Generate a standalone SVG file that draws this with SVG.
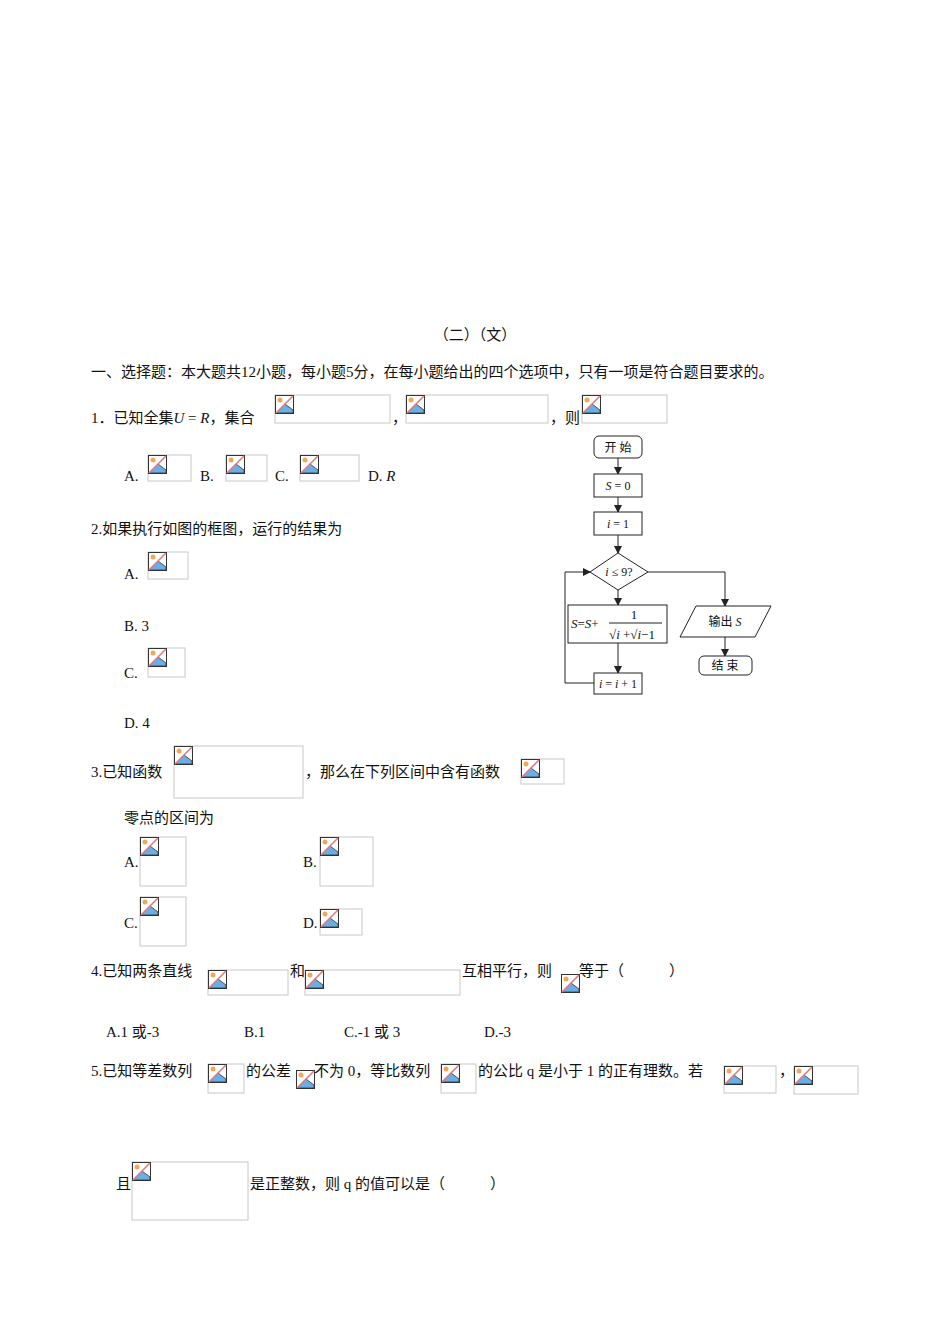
<svg xmlns="http://www.w3.org/2000/svg" xmlns:xlink="http://www.w3.org/1999/xlink" width="950" height="1344" viewBox="0 0 950 1344">
<style>
text{font-family:"Liberation Serif","Noto Sans CJK SC",serif;font-size:15px;fill:#111}
.b{fill:#fff;stroke:#c8c8c8;stroke-width:1}
.f{fill:#fff;stroke:#222;stroke-width:1}
.c{fill:none;stroke:#222;stroke-width:1}
.s{font-size:12px}
.i{font-style:italic}
</style>
<defs>
<marker id="a" markerWidth="8" markerHeight="8" refX="7" refY="4" orient="auto" markerUnits="userSpaceOnUse"><path d="M0,0L8,4L0,8z" fill="#222"/></marker>
<g id="ic"><rect x="0.5" y="0.5" width="18" height="18" fill="#fff" stroke="#333"/><circle cx="5" cy="5" r="2.5" fill="#f2a65a"/><path d="M1,18L10,9L18,15V18z" fill="#6aaee6" stroke="#333" stroke-width="0.8"/><path d="M1,18L18,1" stroke="#e07a7a" stroke-width="1.6"/></g>
</defs>
<rect width="950" height="1344" fill="#fff"/>
<g id="texts">
<text x="475" y="340" text-anchor="middle">（二）（文）</text>
<text x="91" y="377">一、选择题：本大题共12小题，每小题5分，在每小题给出的四个选项中，只有一项是符合题目要求的。</text>
<text x="91" y="423">1．已知全集<tspan class="i">U</tspan> = <tspan class="i">R</tspan>，集合</text>
<text x="392" y="423">，</text>
<text x="550" y="423">，则</text>
<text x="124" y="481">A.</text><text x="200" y="481">B.</text><text x="275" y="481">C.</text><text x="368" y="481">D. <tspan class="i">R</tspan></text>
<text x="91" y="534">2.如果执行如图的框图，运行的结果为</text>
<text x="124" y="579">A.</text>
<text x="124" y="631">B. 3</text>
<text x="124" y="678">C.</text>
<text x="124" y="728">D. 4</text>
<text x="91" y="777">3.已知函数</text>
<text x="305" y="777">，那么在下列区间中含有函数</text>
<text x="124" y="823">零点的区间为</text>
<text x="124" y="867">A.</text><text x="303" y="867">B.</text>
<text x="124" y="928">C.</text><text x="303" y="928">D.</text>
<text x="91" y="976">4.已知两条直线</text>
<text x="290" y="976">和</text>
<text x="462" y="976">互相平行，则</text>
<text x="579" y="976">等于（　　　）</text>
<text x="106" y="1037">A.1 或-3</text><text x="244" y="1037">B.1</text><text x="344" y="1037">C.-1 或 3</text><text x="484" y="1037">D.-3</text>
<text x="91" y="1076">5.已知等差数列</text>
<text x="246" y="1076">的公差</text>
<text x="314" y="1076">不为 0，等比数列</text>
<text x="478" y="1076">的公比 q 是小于 1 的正有理数。若</text>
<text x="779" y="1076">，</text>
<text x="116" y="1189">且</text>
<text x="250" y="1189">是正整数，则 q 的值可以是（　　　）</text>
</g>
<g id="images">
<rect class="b" x="275" y="395" width="115" height="28"/><use href="#ic" x="275" y="395"/>
<rect class="b" x="406" y="395" width="142" height="28"/><use href="#ic" x="406" y="395"/>
<rect class="b" x="582" y="395" width="85" height="28"/><use href="#ic" x="582" y="395"/>
<rect class="b" x="148" y="455" width="43" height="26"/><use href="#ic" x="148" y="455"/>
<rect class="b" x="226" y="455" width="41" height="26"/><use href="#ic" x="226" y="455"/>
<rect class="b" x="300" y="455" width="59" height="26"/><use href="#ic" x="300" y="455"/>
<rect class="b" x="148" y="552" width="40" height="27"/><use href="#ic" x="148" y="552"/>
<rect class="b" x="148" y="648" width="37" height="29"/><use href="#ic" x="148" y="648"/>
<rect class="b" x="174" y="746" width="129" height="52"/><use href="#ic" x="174" y="746"/>
<rect class="b" x="521" y="759" width="43" height="25"/><use href="#ic" x="521" y="759"/>
<rect class="b" x="140" y="837" width="46" height="49"/><use href="#ic" x="140" y="837"/>
<rect class="b" x="320" y="837" width="53" height="49"/><use href="#ic" x="320" y="837"/>
<rect class="b" x="140" y="897" width="46" height="49"/><use href="#ic" x="140" y="897"/>
<rect class="b" x="320" y="909" width="42" height="26"/><use href="#ic" x="320" y="909"/>
<rect class="b" x="208" y="970" width="80" height="25"/><use href="#ic" x="208" y="970"/>
<rect class="b" x="305" y="970" width="155" height="25"/><use href="#ic" x="305" y="970"/>
<use href="#ic" x="561" y="974"/>
<rect class="b" x="208" y="1064" width="36" height="29"/><use href="#ic" x="208" y="1064"/>
<use href="#ic" x="296" y="1070"/>
<rect class="b" x="441" y="1064" width="35" height="29"/><use href="#ic" x="441" y="1064"/>
<rect class="b" x="724" y="1066" width="52" height="27"/><use href="#ic" x="724" y="1066"/>
<rect class="b" x="794" y="1066" width="64" height="28"/><use href="#ic" x="794" y="1066"/>
<rect class="b" x="132" y="1162" width="116" height="58"/><use href="#ic" x="132" y="1162"/>
</g>
<g id="connectors">
<path class="c" d="M618,458V474" marker-end="url(#a)"/>
<path class="c" d="M618,497V512" marker-end="url(#a)"/>
<path class="c" d="M618,535V553" marker-end="url(#a)"/>
<path class="c" d="M618,590V605" marker-end="url(#a)"/>
<path class="c" d="M618,643V673" marker-end="url(#a)"/>
<path class="c" d="M594,683H565V572H590" marker-end="url(#a)"/>
<path class="c" d="M648,572H725V606" marker-end="url(#a)"/>
<path class="c" d="M725,637V656" marker-end="url(#a)"/>
</g>
<g id="n-start"><rect class="f" x="594" y="436" width="48" height="22" rx="5"/><text class="s" x="618" y="452" text-anchor="middle">开 始</text></g>
<g id="n-s0"><rect class="f" x="594" y="474" width="48" height="23"/><text class="s" x="618" y="490" text-anchor="middle"><tspan class="i">S</tspan> = 0</text></g>
<g id="n-i1"><rect class="f" x="594" y="512" width="48" height="23"/><text class="s" x="618" y="528" text-anchor="middle"><tspan class="i">i</tspan> = 1</text></g>
<g id="n-cond"><path class="f" d="M618,553L648,572L618,590L590,572z"/><text class="s" x="619" y="576" text-anchor="middle"><tspan class="i">i</tspan> ≤ 9?</text></g>
<g id="n-sum"><rect class="f" x="568" y="605" width="99" height="38"/>
<text x="571" y="628" style="font-size:13px"><tspan class="i">S</tspan>=<tspan class="i">S</tspan>+</text>
<text x="634" y="619" text-anchor="middle" style="font-size:13px">1</text>
<path class="c" d="M609,623H662" stroke-width="0.8"/>
<text x="609" y="639" style="font-size:13px">√<tspan class="i">i</tspan> +√<tspan class="i">i</tspan>−1</text>
</g>
<g id="n-inc"><rect class="f" x="594" y="673" width="48" height="21"/><text class="s" x="618" y="688" text-anchor="middle"><tspan class="i">i</tspan> = <tspan class="i">i</tspan> + 1</text></g>
<g id="n-out"><path class="f" d="M696,606H771L755,637H680z"/><text class="s" x="725" y="626" text-anchor="middle">输出 <tspan class="i">S</tspan></text></g>
<g id="n-end"><rect class="f" x="699" y="656" width="53" height="19" rx="5"/><text class="s" x="725" y="670" text-anchor="middle">结 束</text></g>
</svg>
